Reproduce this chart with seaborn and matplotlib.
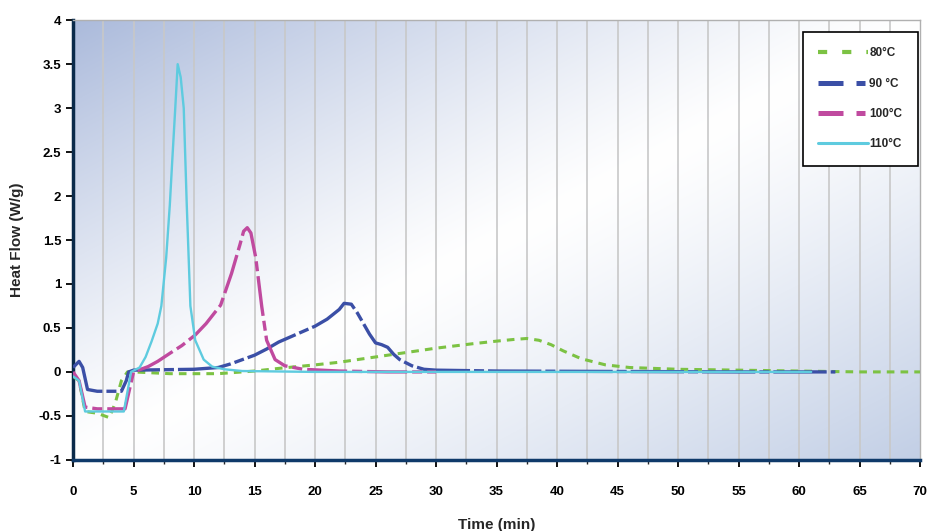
import numpy as np
import pandas as pd
import matplotlib.pyplot as plt
import seaborn as sns
from matplotlib.lines import Line2D

# heat flow curves (time in min, heat flow in W/g)
t80 = [0, 0.5, 1, 2, 3, 3.5, 4, 4.5, 5, 8, 12, 15, 17, 20, 22, 25, 27, 30, 33, 35, 36.5, 37.5, 38.5, 39.5, 40.5, 42, 44, 46, 50, 55, 60, 65, 70]
hf80 = [-0.05, -0.1, -0.45, -0.47, -0.52, -0.35, -0.1, 0, 0, -0.02, -0.02, 0.01, 0.04, 0.08, 0.11, 0.17, 0.21, 0.27, 0.32, 0.35, 0.37, 0.38, 0.36, 0.31, 0.24, 0.15, 0.08, 0.05, 0.03, 0.02, 0.01, 0, 0]

t90 = [0, 0.5, 0.8, 1.2, 2, 4, 4.4, 4.6, 5, 10, 12, 13, 14, 15, 16, 17, 18, 19, 20, 21, 22, 22.4, 23, 23.5, 24, 24.5, 25, 25.5, 26, 26.5, 27, 28, 29, 30, 35, 45, 55, 63]
hf90 = [0.05, 0.12, 0.05, -0.2, -0.22, -0.22, -0.1, 0, 0.02, 0.03, 0.05, 0.09, 0.14, 0.19, 0.26, 0.34, 0.4, 0.46, 0.52, 0.6, 0.71, 0.78, 0.77, 0.67, 0.55, 0.43, 0.33, 0.31, 0.28, 0.2, 0.14, 0.07, 0.03, 0.02, 0.01, 0.005, 0, 0]

t100 = [0, 0.5, 1, 2, 4.3, 5, 6.2, 7, 8.1, 9, 10.1, 11, 12.2, 13.1, 13.8, 14.1, 14.4, 14.7, 15.1, 15.6, 16.0, 16.7, 17.5, 19, 22, 26, 30]
hf100 = [0, -0.1, -0.4, -0.42, -0.42, 0, 0.06, 0.12, 0.22, 0.3, 0.42, 0.55, 0.76, 1.12, 1.45, 1.6, 1.64, 1.58, 1.3, 0.74, 0.36, 0.14, 0.07, 0.03, 0.01, 0, 0]

t110 = [0, 0.5, 1, 2, 4.2, 4.8, 5.5, 6, 6.5, 7, 7.3, 7.7, 8, 8.2, 8.45, 8.65, 8.9, 9.15, 9.4, 9.7, 10.1, 10.8, 11.5, 12.5, 14, 20, 40, 61]
hf110 = [-0.05, -0.1, -0.45, -0.45, -0.45, 0, 0.05, 0.17, 0.35, 0.55, 0.75, 1.3, 1.9, 2.4, 3.0, 3.5, 3.35, 3.0, 1.9, 0.75, 0.36, 0.14, 0.06, 0.03, 0.01, 0, 0, 0]

labels = ["80°C", "90 °C", "100°C", "110°C"]
colors = ["#7cc243", "#3b4fa6", "#c04a9f", "#5ecbdf"]

sns.set_style("white")
plt.rcParams['font.family'] = ['Liberation Sans', 'DejaVu Sans']

fig = plt.figure(figsize=(9.36, 5.31), dpi=100)
ax = fig.add_axes([0.078, 0.134, 0.905, 0.828])

# background gradient: bluish in top-left (stronger) and bottom-right corners, white between
gx, gy = np.meshgrid(np.linspace(0, 1, 300), np.linspace(0, 1, 300))
d = (gx + gy) / 2 - 0.5
white = np.array([1.0, 1.0, 1.0])
tl = np.array([0.67, 0.73, 0.86])
br = np.array([0.76, 0.81, 0.9])
w_tl = (np.clip(-d, 0, None) * 2) ** 1.2
w_br = (np.clip(d, 0, None) * 2) ** 1.2
img = white + (tl - white) * w_tl[..., None] + (br - white) * w_br[..., None]
ax.imshow(img, extent=[0, 1, 0, 1], transform=ax.transAxes, aspect='auto', zorder=0)

styles = [(0, (2.5, 2.0)), (0, (16, 1.2, 3, 1.2)), (0, (12, 1.5, 3, 1.5)), '-']
widths = [2.2, 2.4, 2.4, 1.7]
series = [(t80, hf80), (t90, hf90), (t100, hf100), (t110, hf110)]
for (t, hf), lab, col, ls, lw in zip(series, labels, colors, styles, widths):
    df = pd.DataFrame({'Time': t, 'HF': hf})
    sns.lineplot(data=df, x='Time', y='HF', ax=ax, color=col, linestyle=ls,
                 linewidth=lw, sort=False, zorder=3)

ax.set_xlim(0, 70)
ax.set_ylim(-1, 4)
ax.set_xticks(np.arange(0, 71, 5))
ax.set_xticks(np.arange(0, 71, 2.5), minor=True)
ax.set_yticks(np.arange(-1, 4.01, 0.5))
ax.set_yticklabels([f"{v:g}" for v in np.arange(-1, 4.01, 0.5)])
for v in np.arange(2.5, 70, 2.5):
    ax.axvline(v, color='#c8c8c8', lw=1.2, zorder=1)

ax.tick_params(axis='both', which='major', direction='out', length=5, width=1.3,
               labelsize=9.5, colors='black', bottom=True, left=True)
ax.tick_params(axis='x', which='minor', direction='out', length=3, width=1, bottom=True)
ax.tick_params(axis='x', pad=14)
for lab in ax.get_xticklabels() + ax.get_yticklabels():
    lab.set_fontweight('bold')

ax.spines['left'].set_color('#0a2a4a')
ax.spines['left'].set_linewidth(2.5)
ax.spines['bottom'].set_color('#0f3a6a')
ax.spines['bottom'].set_linewidth(2.5)
ax.spines['top'].set_color('#b0b0b0')
ax.spines['right'].set_color('#b0b0b0')
ax.spines['top'].set_linewidth(1)
ax.spines['right'].set_linewidth(1)

ax.set_xlabel('Time (min)', fontsize=11, fontweight='bold', labelpad=14)
ax.set_ylabel('Heat Flow (W/g)', fontsize=11, fontweight='bold', labelpad=10)

# legend samples show the dash patterns as in the original
handles = [
    Line2D([], [], color=colors[0], lw=3, linestyle=(0, (2.2, 3.6))),
    Line2D([], [], color=colors[1], lw=3.6, linestyle=(0, (5, 2.6, 1.8, 2.6))),
    Line2D([], [], color=colors[2], lw=3.6, linestyle=(0, (5, 2.6, 1.8, 2.6))),
    Line2D([], [], color=colors[3], lw=2.2, linestyle='-'),
]
leg = ax.legend(handles, labels, loc='upper right', bbox_to_anchor=(0.997, 0.973),
                frameon=True, fancybox=False, edgecolor='black', framealpha=1,
                fontsize=8.5, handlelength=4.2, handletextpad=0.1, labelspacing=1.55,
                borderpad=1.3, borderaxespad=0)
leg.get_frame().set_linewidth(1.2)
for txt in leg.get_texts():
    txt.set_fontweight('bold')

fig.savefig('out.png', dpi=100)
